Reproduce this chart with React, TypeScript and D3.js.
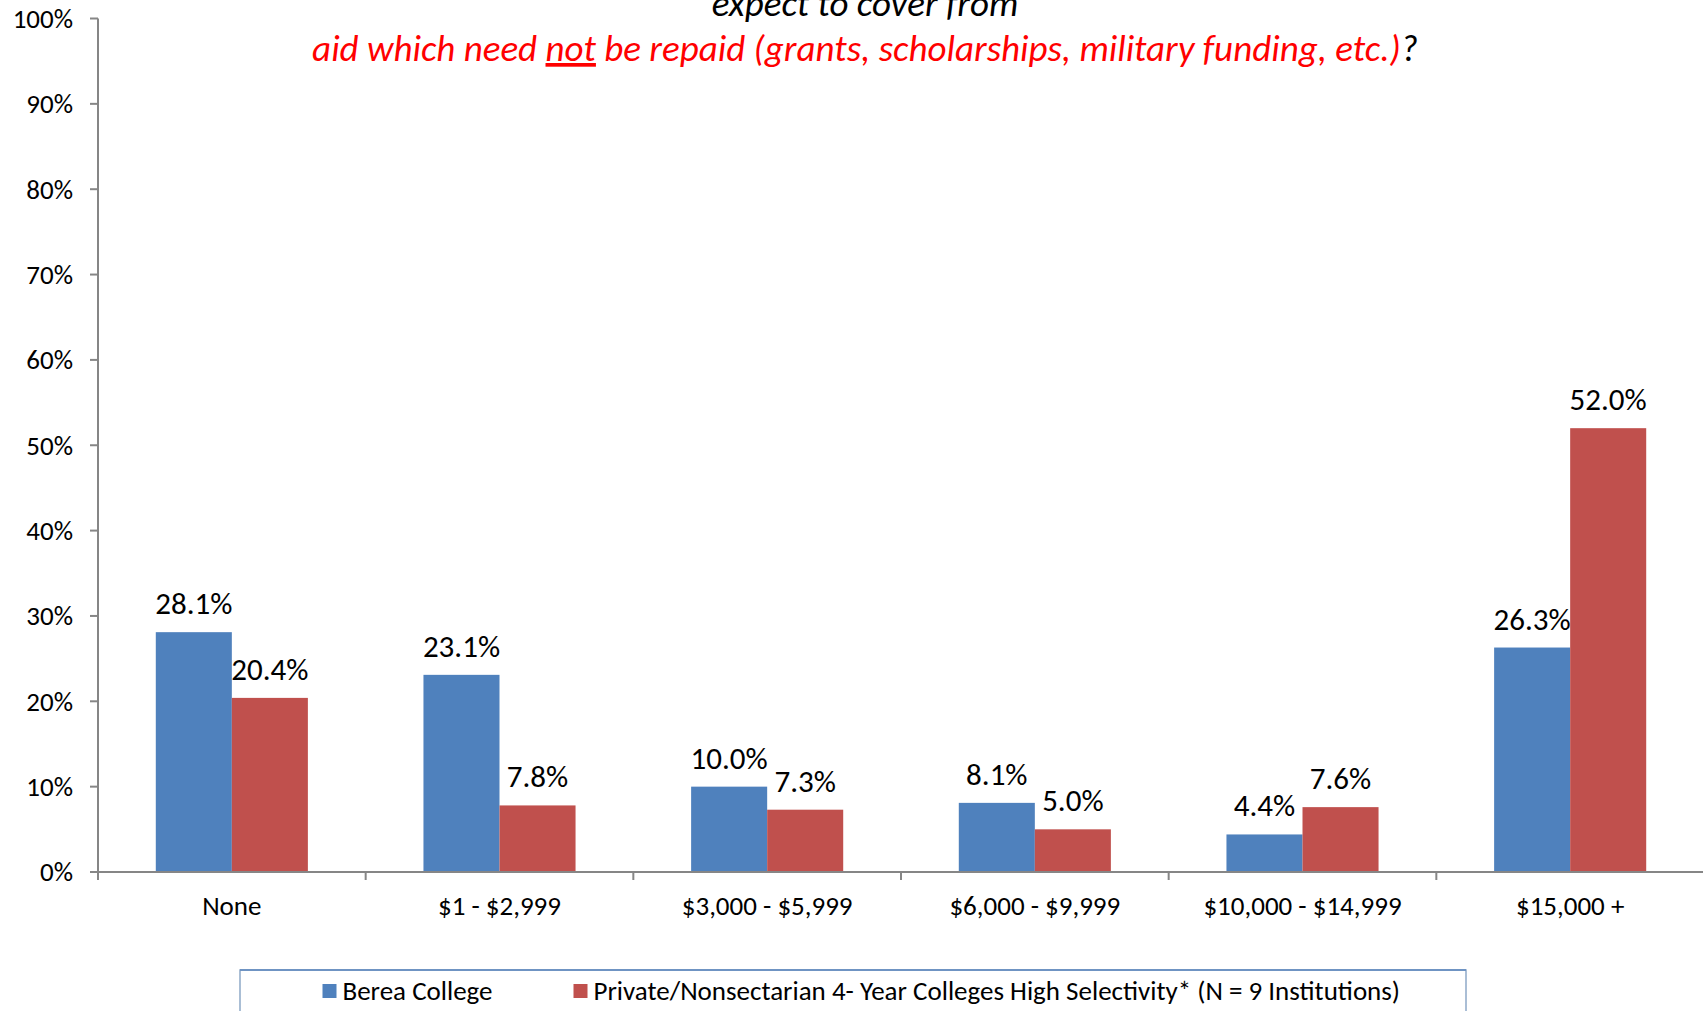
import * as d3 from "d3";

const categories = ["None", "$1 - $2,999", "$3,000 - $5,999", "$6,000 - $9,999", "$10,000 - $14,999", "$15,000 +"];
const bereaValues = [28.1, 23.1, 10.0, 8.1, 4.4, 26.3];
const privateValues = [20.4, 7.8, 7.3, 5.0, 7.6, 52.0];
const seriesNames = ["Berea College", "Private/Nonsectarian 4- Year Colleges High Selectivity* (N = 9 Institutions)"];
const seriesColors = ["#4F81BD", "#C0504D"];
const yTicks = [0, 10, 20, 30, 40, 50, 60, 70, 80, 90, 100];

const W = 1703;
const H = 1011;
const FONT = "Carlito, Lato, 'Open Sans', sans-serif";

const App = () => {
  const margin = { left: 98, right: 0, top: 18.5, bottom: 139 };
  const plotBottom = H - margin.bottom; // 872

  const x = d3.scaleBand<string>().domain(categories).range([margin.left, W + 1]).paddingInner(0).paddingOuter(0);
  const inner = d3.scaleBand<number>().domain([0, 1]).range([0, x.bandwidth()]).paddingInner(0).paddingOuter(0.76);
  const y = d3.scaleLinear().domain([0, 100]).range([plotBottom, margin.top]);

  const series = [bereaValues, privateValues];
  const axisColor = "#868686";

  return (
    <div>
      <style>{"body{margin:0}"}</style>
      <svg width={W} height={H} style={{ display: "block", background: "#fff" }} fontFamily={FONT}>
        {/* title (top line is cut off by the page) */}
        <text x={865} y={16} textAnchor="middle" fontSize={37} fontStyle="italic" fill="#000">
          expect to cover from
        </text>
        <text x={865} y={61} textAnchor="middle" fontSize={37} fontStyle="italic" fill="#FF0000">
          <tspan>aid which need </tspan>
          <tspan textDecoration="underline">not</tspan>
          <tspan> be repaid (grants, scholarships, military funding, etc.)</tspan>
          <tspan fill="#000">?</tspan>
        </text>

        {/* y axis */}
        <line x1={margin.left} x2={margin.left} y1={y(100)} y2={plotBottom} stroke={axisColor} strokeWidth={2} />
        {yTicks.map((t) => (
          <g key={t}>
            <line x1={margin.left - 8} x2={margin.left} y1={y(t)} y2={y(t)} stroke={axisColor} strokeWidth={2} />
            <text x={73} y={y(t)} dy="0.35em" textAnchor="end" fontSize={27} fill="#000">
              {t}%
            </text>
          </g>
        ))}

        {/* bars */}
        {categories.map((c, i) => (
          <g key={c}>
            {series.map((vals, s) => {
              const bx = (x(c) as number) + (inner(s) as number);
              const bw = inner.bandwidth();
              return (
                <g key={s}>
                  <rect x={bx} y={y(vals[i])} width={bw} height={plotBottom - y(vals[i])} fill={seriesColors[s]} />
                  <text x={bx + bw / 2} y={y(vals[i]) - 18} textAnchor="middle" fontSize={31} fill="#000">
                    {vals[i].toFixed(1)}%
                  </text>
                </g>
              );
            })}
            <text x={(x(c) as number) + x.bandwidth() / 2} y={915} textAnchor="middle" fontSize={27} fill="#000">
              {c}
            </text>
          </g>
        ))}

        {/* x axis */}
        <line x1={margin.left} x2={W} y1={plotBottom} y2={plotBottom} stroke={axisColor} strokeWidth={2} />
        {categories.map((c) => (
          <line key={c} x1={x(c) as number} x2={x(c) as number} y1={plotBottom} y2={plotBottom + 8} stroke={axisColor} strokeWidth={2} />
        ))}

        {/* legend */}
        <rect x={240} y={970} width={1226} height={60} fill="#fff" stroke="#8EA9C8" strokeWidth={1.5} />
        <line x1={240} x2={1466} y1={970} y2={970} stroke="#6F94C3" strokeWidth={2} />
        {seriesNames.map((name, s) => {
          const lx = s === 0 ? 322.5 : 573.5;
          return (
            <g key={name}>
              <rect x={lx} y={984} width={14} height={14} fill={seriesColors[s]} />
              <text x={lx + 20} y={991} dy="0.35em" fontSize={27} fill="#000">
                {name}
              </text>
            </g>
          );
        })}
      </svg>
    </div>
  );
};

export default App;
